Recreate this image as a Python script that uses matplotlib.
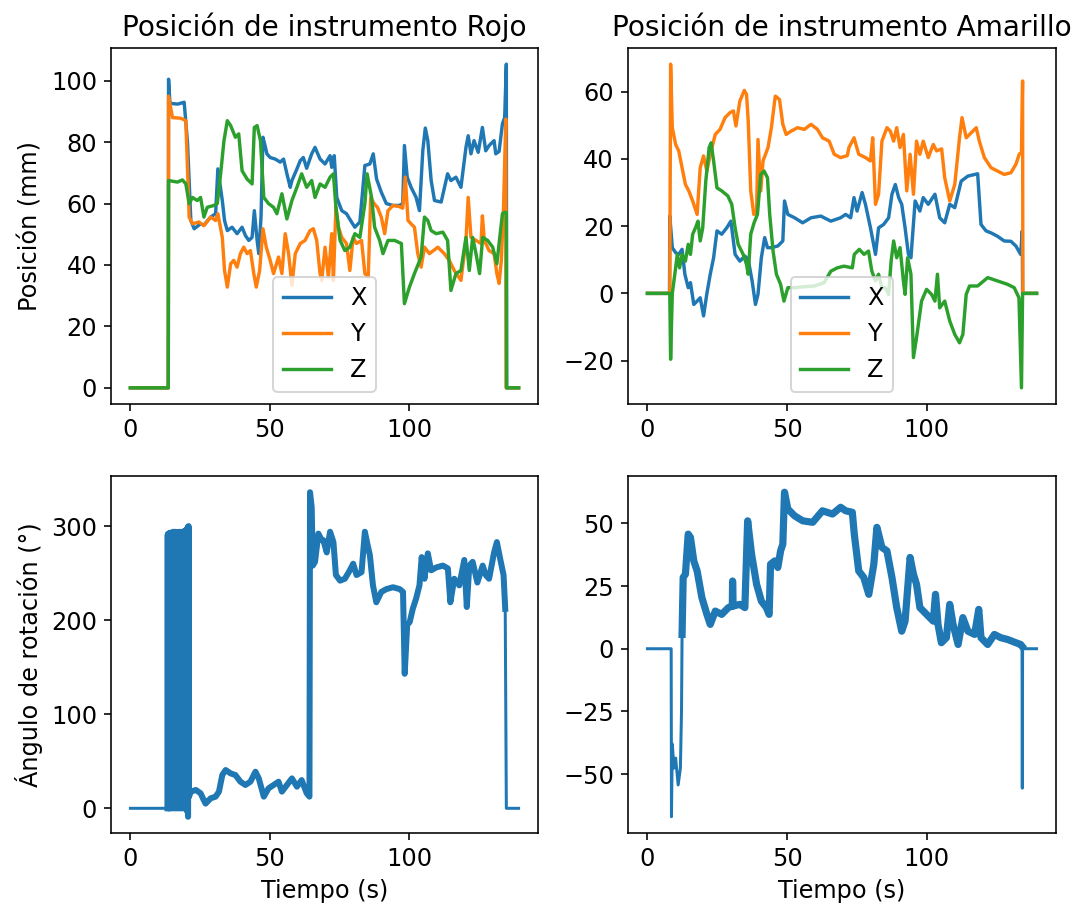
import numpy as np
import matplotlib
matplotlib.use("Agg")
import matplotlib.pyplot as plt

# ---------------------------------------------------------------------------
# Position of the red instrument (time s, value mm)
rojo_x = [(0, 0), (13.6, 0), (13.7, 100.5), (14.2, 92.5), (14.6, 92.6), (17.0, 92.4),
          (18.5, 92.8), (19.3, 93.0), (20.5, 80.0), (21.7, 54.5), (22.9, 51.8), (25.2, 53.4),
          (26.4, 53.0), (28.8, 55.6), (30.6, 56.7), (31.4, 71.3), (33.0, 61.0), (33.8, 54.5),
          (34.8, 51.2), (36.5, 52.3), (38.3, 50.2), (40.1, 52.3), (41.3, 49.6), (42.5, 48.0),
          (43.7, 49.0), (44.5, 57.7), (45.5, 48.0), (46.1, 43.7), (46.9, 55.6), (47.6, 81.6),
          (48.5, 78.3), (49.0, 76.2), (50.2, 75.0), (52.0, 74.5), (53.8, 73.5), (55.0, 74.5),
          (56.2, 69.7), (57.4, 65.3), (58.0, 67.5), (59.8, 71.3), (61.0, 74.0), (62.1, 75.0),
          (63.3, 71.5), (65.1, 76.2), (66.3, 78.3), (68.1, 74.5), (69.9, 72.9), (71.7, 75.6),
          (72.3, 71.8), (73.2, 75.6), (74.1, 62.0), (75.9, 57.7), (77.6, 56.7), (79.4, 54.0),
          (80.6, 52.3), (82.4, 54.0), (84.2, 72.4), (86.0, 72.9), (87.2, 76.2), (88.4, 68.0),
          (90.1, 63.7), (91.9, 60.0), (94.3, 59.4), (96.6, 59.4), (97.8, 60.0), (98.4, 78.9),
          (99.4, 68.6), (100.8, 65.3), (102.6, 62.0), (103.8, 57.7), (105.0, 77.2), (105.9, 84.6),
          (106.8, 80.5), (108.0, 67.5), (109.2, 61.0), (111.6, 60.5), (113.9, 69.7), (115.1, 67.5),
          (116.9, 68.6), (118.7, 65.3), (120.5, 78.3), (121.3, 82.1), (122.3, 76.2), (123.4, 80.5),
          (124.9, 76.7), (126.4, 84.8), (127.6, 77.2), (128.8, 78.9), (130.6, 80.5), (131.2, 76.2),
          (132.4, 77.0), (133.6, 86.0), (134.4, 88.0), (135.0, 105.4), (135.1, 0), (139.4, 0)]

rojo_y = [(0, 0), (13.6, 0), (13.7, 95.0), (15.1, 88.0), (18.1, 87.8), (19.9, 87.0),
          (21.1, 55.6), (22.3, 53.4), (24.6, 54.0), (26.4, 52.8), (28.8, 55.6), (30.6, 54.5),
          (31.4, 56.7), (33.0, 49.0), (33.8, 38.2), (34.8, 32.8), (36.0, 40.4), (37.1, 41.5),
          (38.3, 39.3), (39.5, 43.7), (40.7, 45.8), (41.9, 43.7), (43.1, 44.7), (44.3, 37.2),
          (45.2, 32.8), (46.4, 38.2), (47.6, 51.8), (48.8, 45.8), (50.2, 41.5), (51.4, 37.2),
          (53.2, 42.6), (54.4, 37.2), (55.6, 50.2), (56.8, 43.7), (58.0, 33.4), (59.2, 43.7),
          (61.0, 47.0), (62.7, 48.0), (64.5, 51.2), (65.7, 51.8), (66.9, 48.0), (68.1, 37.2),
          (68.7, 35.0), (69.9, 45.8), (71.1, 36.0), (72.3, 50.2), (72.9, 35.0), (73.8, 58.8),
          (74.7, 52.3), (75.9, 49.0), (77.6, 47.0), (78.8, 38.2), (80.0, 49.0), (81.2, 47.0),
          (83.0, 48.0), (84.2, 37.2), (85.4, 36.0), (86.3, 62.0), (87.5, 60.0), (88.7, 58.8),
          (90.1, 55.6), (91.3, 50.2), (92.5, 57.7), (94.3, 59.4), (96.6, 59.0), (97.8, 58.5),
          (98.7, 68.6), (99.7, 54.5), (100.8, 53.4), (102.0, 52.3), (103.2, 43.7), (104.4, 39.3),
          (105.6, 45.8), (107.4, 43.7), (110.4, 45.8), (112.7, 43.7), (114.5, 41.5), (116.3, 38.2),
          (118.7, 35.0), (120.5, 48.0), (121.3, 62.0), (122.3, 49.0), (124.1, 48.0), (125.9, 47.0),
          (126.4, 56.0), (127.1, 48.0), (128.8, 44.7), (130.6, 43.7), (131.6, 37.2), (132.4, 34.0),
          (133.2, 41.5), (134.0, 58.8), (134.8, 87.5), (134.9, 0), (139.4, 0)]

rojo_z = [(0, 0), (13.6, 0), (13.7, 67.5), (16.9, 67.0), (18.7, 67.7), (19.9, 66.4),
          (21.1, 60.0), (22.3, 62.0), (24.0, 61.0), (25.2, 62.0), (26.4, 55.6), (27.6, 58.8),
          (30.0, 59.4), (31.2, 60.0), (32.4, 69.7), (33.6, 80.5), (34.8, 87.0), (36.0, 85.4),
          (37.7, 81.6), (38.9, 82.7), (40.1, 70.7), (41.9, 68.0), (43.7, 66.4), (44.5, 84.8),
          (45.5, 85.4), (46.7, 80.5), (47.9, 62.0), (49.6, 60.0), (51.4, 58.8), (52.6, 56.7),
          (54.4, 63.2), (56.2, 55.0), (58.0, 61.0), (59.8, 65.3), (61.5, 69.7), (63.3, 65.3),
          (65.1, 67.5), (66.3, 62.0), (68.1, 66.4), (69.9, 65.3), (71.7, 68.6), (72.9, 69.7),
          (73.8, 58.8), (75.3, 48.0), (77.0, 44.7), (78.8, 45.8), (80.6, 50.2), (82.4, 49.0),
          (84.2, 60.0), (85.0, 69.7), (86.6, 62.0), (87.7, 52.3), (89.5, 48.0), (90.7, 43.7),
          (92.5, 48.0), (94.9, 48.0), (97.3, 47.0), (98.4, 27.4), (100.2, 32.8), (102.0, 37.2),
          (104.4, 42.6), (105.6, 55.6), (106.8, 54.5), (108.0, 51.2), (109.8, 50.2), (112.2, 50.7),
          (113.9, 48.0), (115.1, 31.7), (116.9, 37.2), (118.7, 38.2), (120.5, 49.0), (121.7, 38.2),
          (122.9, 49.0), (124.1, 43.7), (125.4, 37.2), (126.5, 49.0), (128.3, 48.0), (130.1, 45.8),
          (131.6, 40.4), (132.4, 47.0), (133.6, 56.7), (134.4, 57.2), (135.0, 57.0), (135.1, 0),
          (139.4, 0)]

# Position of the yellow instrument (time s, value mm)
amarillo_x = [(0, 0), (7.9, 0), (8.0, 23.0), (8.9, 13.6), (10.1, 12.1), (11.2, 11.6), (12.4, 13.1),
              (13.4, 5.7), (14.6, 1.7), (15.4, 3.2), (16.6, -3.3), (17.8, -2.3), (18.9, -1.3),
              (20.1, -6.7), (21.3, 0.0), (22.5, 5.7), (23.7, 10.6), (24.9, 18.6), (26.6, 17.6),
              (28.4, 19.5), (29.9, 21.5), (31.4, 11.6), (33.1, 9.6), (34.9, 11.1), (36.1, 10.1),
              (37.5, 3.7), (38.7, -3.3), (39.6, -0.3), (40.8, 10.6), (42.0, 16.6), (43.0, 13.6),
              (44.4, 13.6), (46.7, 14.1), (48.5, 15.6), (49.1, 27.5), (50.3, 23.5), (52.7, 22.5),
              (55.6, 21.0), (58.6, 22.5), (62.1, 23.0), (65.7, 21.5), (69.2, 22.5), (71.0, 23.5),
              (72.8, 22.5), (74.0, 28.5), (75.1, 24.5), (76.9, 30.0), (78.1, 26.5), (79.9, 19.5),
              (81.7, 11.6), (82.8, 19.5), (84.6, 20.5), (86.4, 22.5), (87.6, 29.5), (88.8, 32.4),
              (90.0, 28.5), (91.1, 26.5), (92.3, 19.5), (93.5, 11.6), (94.4, 10.6), (95.9, 27.5),
              (97.6, 24.5), (98.8, 28.5), (100.6, 26.5), (103.0, 29.5), (104.7, 22.5), (106.5, 21.0),
              (108.3, 26.5), (110.1, 25.5), (112.4, 33.4), (114.8, 34.9), (118.3, 35.6), (119.5, 20.5),
              (121.3, 18.6), (123.1, 18.0), (125.4, 17.0), (127.8, 15.6), (130.2, 15.5), (132.0, 14.1),
              (133.7, 11.6), (134.3, 18.6), (134.4, 0), (139.4, 0)]

amarillo_y = [(0, 0), (8.0, 0), (8.3, 68.2), (8.9, 49.3), (10.1, 44.3), (11.2, 42.4), (12.4, 37.4),
              (13.6, 32.4), (14.8, 30.5), (16.2, 27.5), (17.8, 23.5), (18.9, 37.4), (20.1, 40.9),
              (21.3, 36.4), (22.5, 41.4), (24.3, 47.3), (26.0, 48.8), (27.8, 52.3), (29.6, 53.8),
              (30.8, 54.3), (31.7, 49.8), (33.1, 57.2), (34.7, 60.4), (35.5, 59.2), (36.1, 51.3),
              (37.0, 30.5), (38.1, 23.5), (39.1, 24.5), (39.6, 45.8), (40.6, 30.5), (41.4, 39.4),
              (43.2, 43.4), (44.4, 49.3), (45.8, 58.7), (47.3, 57.7), (48.5, 50.3), (49.7, 47.3),
              (51.5, 48.3), (53.8, 49.3), (56.2, 48.8), (58.6, 50.3), (60.9, 48.8), (62.7, 46.3),
              (65.1, 45.3), (66.9, 41.4), (69.2, 40.4), (71.6, 41.0), (72.2, 43.4), (74.0, 46.3),
              (75.7, 41.4), (78.1, 40.4), (79.9, 39.4), (80.7, 46.3), (81.7, 26.5), (82.8, 29.5),
              (84.0, 45.3), (85.8, 49.3), (87.0, 48.3), (88.2, 45.3), (89.3, 49.3), (90.5, 43.4),
              (91.7, 47.3), (92.9, 30.5), (94.1, 41.4), (95.3, 29.5), (96.4, 45.3), (97.6, 41.4),
              (98.8, 45.3), (100.6, 40.4), (102.4, 44.3), (103.6, 42.4), (105.4, 43.0), (106.5, 34.4),
              (108.3, 27.5), (110.1, 32.4), (111.8, 46.3), (112.7, 52.3), (114.2, 46.3), (116.0, 47.8),
              (117.8, 49.3), (118.9, 45.3), (120.7, 40.4), (123.1, 37.4), (125.4, 36.4), (127.8, 35.4),
              (130.2, 35.9), (132.0, 38.4), (133.2, 41.4), (134.0, 42.0), (134.4, 63.2), (134.5, 0),
              (139.4, 0)]

amarillo_z = [(0, 0), (8.0, 0), (8.3, -19.6), (8.9, 0.0), (9.8, 5.7), (10.7, 11.6), (11.5, 7.6),
              (12.4, 11.6), (13.6, 9.6), (14.6, 14.6), (15.4, 11.6), (16.2, 17.6), (17.2, 19.5),
              (18.1, 21.5), (18.9, 15.6), (19.8, 19.5), (20.9, 33.4), (22.1, 43.4), (22.8, 44.8),
              (23.7, 39.4), (24.9, 31.4), (26.6, 30.5), (28.8, 29.0), (30.2, 26.5), (31.4, 19.5),
              (32.5, 14.6), (34.3, 11.6), (35.5, 8.6), (36.1, 5.7), (37.0, 17.6), (38.2, 21.0),
              (39.4, 23.5), (40.6, 35.4), (41.8, 36.4), (43.0, 34.4), (43.8, 23.5), (45.0, 12.6),
              (46.2, 5.7), (47.7, 2.7), (48.9, -2.3), (50.3, 1.7), (52.7, 1.7), (55.0, 1.9),
              (59.8, 2.2), (63.3, 3.2), (65.7, 6.6), (68.0, 7.6), (70.4, 8.1), (73.4, 7.6),
              (74.1, 11.6), (75.9, 13.1), (77.6, 11.6), (79.2, 12.6), (80.4, 6.6), (81.7, 3.7),
              (82.8, 5.7), (84.0, 1.7), (85.2, 1.7), (86.4, -0.3), (87.3, 9.6), (88.2, 15.6),
              (89.3, 10.6), (90.5, 13.6), (91.7, 3.7), (92.3, -0.3), (93.2, 10.6), (94.4, 5.7),
              (95.3, -19.1), (96.4, -13.2), (98.2, -2.3), (100.0, 1.2), (101.8, -0.3), (103.0, -2.3),
              (103.9, 5.7), (104.7, -4.3), (106.5, -2.3), (108.3, -8.2), (110.1, -12.2), (111.8, -14.7),
              (113.0, -12.2), (114.2, -0.3), (115.4, 2.2), (118.3, 2.2), (121.9, 4.7), (125.4, 3.7),
              (129.0, 2.7), (131.4, 1.7), (133.1, -1.3), (134.0, -28.1), (134.4, 0), (139.4, 0)]

# Rotation angle (time s, value deg)
rojo_rot = [(0, 0), (13.3, 0),
            (13.4, 291), (13.5, 0), (13.6, 292), (13.7, 1), (13.8, 290), (13.9, 0), (14.0, 291),
            (14.1, 2), (14.2, 293), (14.3, 0), (14.4, 290), (14.5, 1), (14.6, 292), (14.7, 0),
            (14.8, 293), (14.9, 2), (15.0, 291), (15.1, 0), (15.2, 292), (15.3, 1), (15.4, 294),
            (15.5, 0), (15.6, 291), (15.7, 2), (15.8, 293), (15.9, 0), (16.0, 292), (16.1, 1),
            (16.2, 294), (16.3, 0), (16.4, 291), (16.5, 2), (16.6, 293), (16.7, 0), (16.8, 292),
            (16.9, 1), (17.0, 291), (17.1, 0), (17.2, 293), (17.3, 2), (17.4, 292), (17.5, 0),
            (17.6, 294), (17.7, 1), (17.8, 291), (17.9, 0), (18.0, 293), (18.1, 2), (18.2, 292),
            (18.3, 0), (18.4, 291), (18.5, 1), (18.6, 293), (18.7, 0), (18.8, 292), (18.9, 2),
            (19.0, 294), (19.1, 0), (19.2, 293), (19.3, 1), (19.4, 295), (19.5, 0), (19.6, 293),
            (19.7, 2), (19.8, 294), (19.9, 0), (20.0, 295), (20.1, 1), (20.2, 296), (20.3, -3),
            (20.4, 297), (20.5, 0), (20.6, 299), (20.7, -9), (20.9, 300), (21.0, 12),
            (21.7, 17.7), (23.5, 19.5), (25.2, 16.0), (26.3, 9.0), (27.0, 5.0), (28.8, 10.6),
            (30.6, 12.4), (31.8, 17.7), (33.0, 35.4), (34.2, 40.7), (36.0, 37.1), (37.7, 35.4),
            (39.5, 28.3), (41.3, 24.8), (43.1, 28.3), (44.9, 38.9), (46.1, 31.8), (47.9, 12.4),
            (49.6, 21.2), (51.4, 24.8), (53.2, 28.3), (54.4, 17.7), (56.2, 24.8), (58.0, 31.8),
            (59.8, 23.0), (61.5, 30.0), (63.3, 16.0), (64.3, 12.4), (64.5, 336), (65.1, 320),
            (65.5, 258), (66.3, 262), (67.5, 292), (68.7, 285), (69.3, 285), (70.5, 272),
            (71.7, 294), (72.9, 283), (73.8, 248), (75.3, 242), (77.0, 244), (78.8, 253),
            (80.0, 260), (81.2, 248), (83.0, 251), (84.2, 294), (85.1, 281), (86.0, 269),
            (87.1, 237), (88.3, 219), (90.1, 230), (91.9, 233), (94.3, 235), (96.7, 233),
            (97.9, 230), (98.5, 143), (99.4, 195), (100.3, 198), (101.4, 212), (102.6, 223),
            (103.8, 237), (104.6, 267), (105.6, 244), (106.8, 271), (108.0, 253), (109.8, 256),
            (112.2, 258), (114.0, 255), (114.9, 219), (116.3, 244), (118.1, 237), (119.9, 264),
            (120.8, 214), (121.7, 258), (122.9, 262), (124.6, 240), (126.5, 258), (127.6, 248),
            (128.8, 244), (130.6, 272), (131.6, 283), (132.8, 265), (134.0, 248), (134.6, 212),
            (135.0, 0), (139.4, 0)]

amarillo_rot = [(0, 0), (8.5, 0), (8.6, -67.0), (8.9, -38.0), (9.5, -47.6), (10.1, -43.6),
                (11.0, -54.3), (11.8, -47.6), (12.2, -25.0), (12.4, 5.7), (12.8, 28.4), (13.6, 29.7),
                (14.6, 45.7), (15.4, 44.4), (16.6, 35.0), (17.8, 31.0), (19.5, 20.4), (21.3, 13.7),
                (22.5, 9.7), (24.3, 15.0), (26.6, 13.7), (29.0, 16.4), (30.4, 17.0), (30.5, 27.0),
                (30.7, 17.0), (33.1, 17.7), (34.9, 16.4), (35.9, 51.0), (37.3, 37.7), (39.1, 25.7),
                (40.8, 19.0), (42.6, 16.4), (43.6, 13.7), (44.1, 33.7), (45.6, 35.0), (46.7, 32.4),
                (47.7, 39.0), (48.5, 41.7), (49.1, 62.4), (50.3, 55.7), (52.7, 53.0), (55.6, 51.0),
                (59.2, 50.4), (62.7, 55.0), (66.3, 53.7), (69.2, 56.4), (71.0, 55.0), (73.4, 54.4),
                (74.1, 45.7), (75.7, 31.0), (77.5, 28.4), (79.3, 21.7), (81.1, 33.7), (82.2, 48.4),
                (84.0, 40.4), (85.8, 39.0), (87.6, 28.4), (89.3, 16.4), (91.1, 7.0), (92.3, 11.0),
                (94.1, 36.4), (95.3, 29.7), (96.4, 25.7), (97.6, 16.4), (100.0, 13.7), (102.4, 11.0),
                (103.2, 21.7), (104.1, 9.7), (105.3, 2.4), (107.1, 4.4), (108.3, 17.7), (109.5, 9.7),
                (111.3, 1.7), (113.0, 12.4), (114.8, 7.0), (117.2, 5.7), (118.7, 15.7), (119.5, 4.4),
                (121.9, 1.7), (124.3, 5.7), (126.6, 4.4), (129.0, 3.7), (132.0, 2.4), (133.7, 1.7),
                (134.2, 1.0), (134.3, -55.6), (134.4, 0), (139.4, 0)]

# Time span during which each rotation sensor was streaming (drawn heavier)
rojo_rot_activo = (13.3, 134.6)
amarillo_rot_activo = (12.4, 134.2)

ejes = ["X", "Y", "Z"]

# ---------------------------------------------------------------------------
plt.rcParams["font.size"] = 12

DPI = 144
W, H = 1083, 911
fig = plt.figure(figsize=(W / DPI, H / DPI), dpi=DPI)


def box(x0, y0, x1, y1):
    """Axes rectangle from pixel edges (origin at top-left)."""
    return [x0 / W, 1 - y1 / H, (x1 - x0) / W, (y1 - y0) / H]


ax_tl = fig.add_axes(box(111, 48, 538, 404))
ax_tr = fig.add_axes(box(628, 48, 1056, 404))
ax_bl = fig.add_axes(box(111, 476, 538, 833))
ax_br = fig.add_axes(box(628, 476, 1056, 833))


def xy(serie):
    arr = np.array(serie, dtype=float)
    return arr[:, 0], arr[:, 1]


for ax, series, titulo in [(ax_tl, [rojo_x, rojo_y, rojo_z], "Posición de instrumento Rojo"),
                           (ax_tr, [amarillo_x, amarillo_y, amarillo_z], "Posición de instrumento Amarillo")]:
    for nombre, serie in zip(ejes, series):
        t, v = xy(serie)
        ax.plot(t, v, label=nombre, lw=1.7)
    ax.set_title(titulo, fontsize=14)
    ax.legend(loc="lower center", fontsize=12)

ax_tl.set_ylabel("Posición (mm)", fontsize=12)

for ax, serie, activo, grosor in [(ax_bl, rojo_rot, rojo_rot_activo, 3.0),
                                  (ax_br, amarillo_rot, amarillo_rot_activo, 3.6)]:
    t, v = xy(serie)
    ax.plot(t, v, color="C0", lw=1.5)
    m = (t >= activo[0]) & (t <= activo[1])
    ax.plot(t[m], v[m], color="C0", lw=grosor, solid_joinstyle="round")
    ax.set_xlabel("Tiempo (s)", fontsize=12)

ax_bl.set_ylabel("Ángulo de rotación (°)", fontsize=12)

fig.savefig("out.png", dpi=DPI)
